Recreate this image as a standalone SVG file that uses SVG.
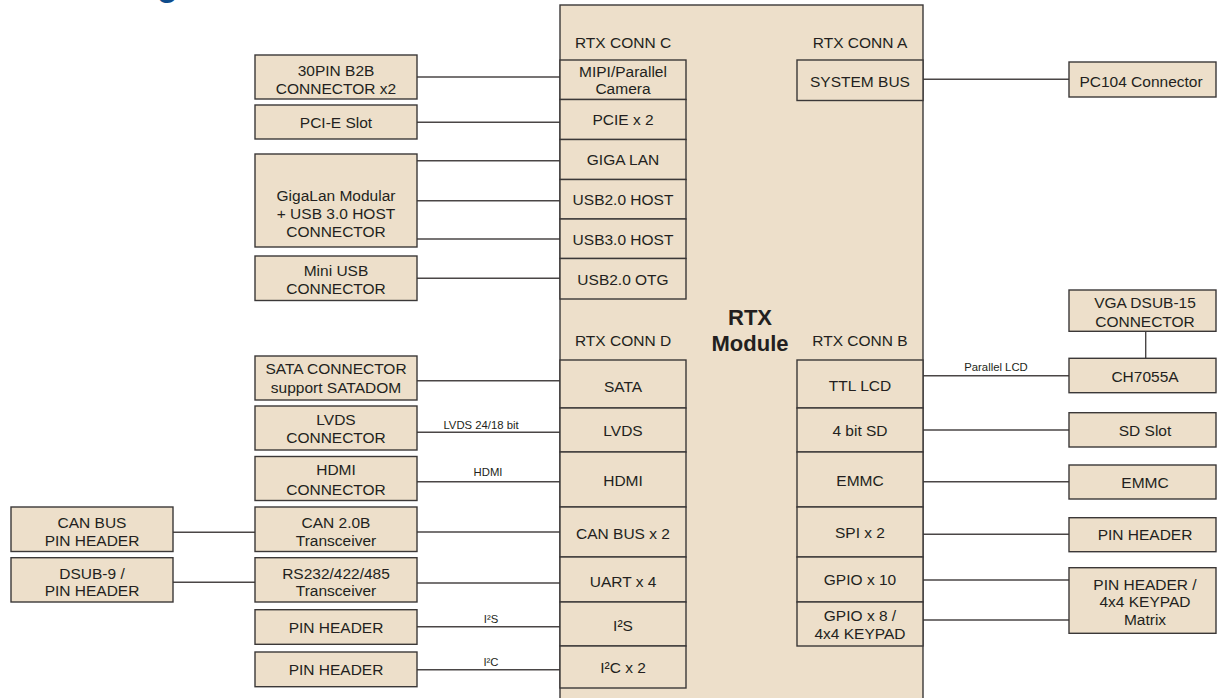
<svg xmlns="http://www.w3.org/2000/svg" width="1217" height="698" viewBox="0 0 1217 698">
<style>
.b{fill:#EDDFCA;stroke:#3b3838;stroke-width:1.4}
.t{font-family:"Liberation Sans",Arial,sans-serif;font-size:15.5px;fill:#231F20;text-anchor:middle}
.s{font-family:"Liberation Sans",Arial,sans-serif;font-size:11.3px;fill:#231F20;text-anchor:middle}
.h{font-family:"Liberation Sans",Arial,sans-serif;font-size:22px;font-weight:bold;fill:#231F20;text-anchor:middle}
.c{stroke:#4a4646;stroke-width:1.4;fill:none}
</style>
<rect width="1217" height="698" fill="#ffffff"/>
<text x="157" y="-4" font-family="'Liberation Sans',Arial,sans-serif" font-size="34" font-weight="bold" fill="#0e4c8c">g</text>

<g id="connectors">
<line class="c" x1="417" y1="77" x2="560" y2="77"/>
<line class="c" x1="417" y1="122.3" x2="560" y2="122.3"/>
<line class="c" x1="417" y1="160.7" x2="560" y2="160.7"/>
<line class="c" x1="417" y1="200.7" x2="560" y2="200.7"/>
<line class="c" x1="417" y1="239" x2="560" y2="239"/>
<line class="c" x1="417" y1="278.3" x2="560" y2="278.3"/>
<line class="c" x1="417" y1="380.7" x2="560" y2="380.7"/>
<line class="c" x1="417" y1="432.3" x2="560" y2="432.3"/>
<line class="c" x1="417" y1="481.7" x2="560" y2="481.7"/>
<line class="c" x1="417" y1="532" x2="560" y2="532"/>
<line class="c" x1="417" y1="583" x2="560" y2="583"/>
<line class="c" x1="417" y1="626.7" x2="560" y2="626.7"/>
<line class="c" x1="417" y1="669.7" x2="560" y2="669.7"/>
<line class="c" x1="173" y1="532.3" x2="255" y2="532.3"/>
<line class="c" x1="173" y1="582.3" x2="255" y2="582.3"/>
<line class="c" x1="923" y1="79.3" x2="1069" y2="79.3"/>
<line class="c" x1="923" y1="375.7" x2="1069" y2="375.7"/>
<line class="c" x1="923" y1="430" x2="1069" y2="430"/>
<line class="c" x1="923" y1="481.7" x2="1069" y2="481.7"/>
<line class="c" x1="923" y1="534.3" x2="1069" y2="534.3"/>
<line class="c" x1="923" y1="580" x2="1069" y2="580"/>
<line class="c" x1="923" y1="620" x2="1069" y2="620"/>
<line class="c" x1="1145.7" y1="331.3" x2="1145.7" y2="358.3"/>
<text class="s" x="481" y="429">LVDS 24/18 bit</text>
<text class="s" x="488" y="476">HDMI</text>
<text class="s" x="491" y="623.3">I²S</text>
<text class="s" x="491" y="665.7">I²C</text>
<text class="s" x="996" y="370.7">Parallel LCD</text>
</g>

<g id="rtx-module">
<rect class="b" x="560" y="5" width="363" height="700"/>
<text class="t" x="623" y="47.5">RTX CONN C</text>
<text class="t" x="860" y="47.5">RTX CONN A</text>
<text class="t" x="623" y="346">RTX CONN D</text>
<text class="t" x="860" y="346">RTX CONN B</text>
<text class="h" x="750" y="325">RTX<tspan x="750" dy="26">Module</tspan></text>
</g>

<g id="conn-c-mipi"><rect class="b" x="560" y="60" width="126" height="39.5"/><text class="t" x="623" y="76.5">MIPI/Parallel<tspan x="623" dy="17.5">Camera</tspan></text></g>
<g id="conn-c-pcie"><rect class="b" x="560" y="99.5" width="126" height="40"/><text class="t" x="623" y="125">PCIE x 2</text></g>
<g id="conn-c-gigalan"><rect class="b" x="560" y="139.5" width="126" height="40"/><text class="t" x="623" y="165">GIGA LAN</text></g>
<g id="conn-c-usb2host"><rect class="b" x="560" y="179.5" width="126" height="39.5"/><text class="t" x="623" y="205">USB2.0 HOST</text></g>
<g id="conn-c-usb3host"><rect class="b" x="560" y="219" width="126" height="39.5"/><text class="t" x="623" y="244.5">USB3.0 HOST</text></g>
<g id="conn-c-usbotg"><rect class="b" x="560" y="258.5" width="126" height="40.5"/><text class="t" x="623" y="285">USB2.0 OTG</text></g>

<g id="conn-d-sata"><rect class="b" x="560" y="360" width="126" height="48"/><text class="t" x="623" y="392">SATA</text></g>
<g id="conn-d-lvds"><rect class="b" x="560" y="408" width="126" height="44"/><text class="t" x="623" y="435.5">LVDS</text></g>
<g id="conn-d-hdmi"><rect class="b" x="560" y="452" width="126" height="55"/><text class="t" x="623" y="485.5">HDMI</text></g>
<g id="conn-d-can"><rect class="b" x="560" y="507" width="126" height="50"/><text class="t" x="623" y="539">CAN BUS x 2</text></g>
<g id="conn-d-uart"><rect class="b" x="560" y="557" width="126" height="45"/><text class="t" x="623" y="586.5">UART x 4</text></g>
<g id="conn-d-i2s"><rect class="b" x="560" y="602" width="126" height="44"/><text class="t" x="623" y="630.5">I²S</text></g>
<g id="conn-d-i2c"><rect class="b" x="560" y="646" width="126" height="42"/><text class="t" x="623" y="672.5">I²C x 2</text></g>

<g id="conn-a-sysbus"><rect class="b" x="797" y="60" width="126" height="40.5"/><text class="t" x="860" y="86.5">SYSTEM BUS</text></g>

<g id="conn-b-ttllcd"><rect class="b" x="797" y="360" width="126" height="48"/><text class="t" x="860" y="390.5">TTL LCD</text></g>
<g id="conn-b-sd"><rect class="b" x="797" y="408" width="126" height="44"/><text class="t" x="860" y="435.5">4 bit SD</text></g>
<g id="conn-b-emmc"><rect class="b" x="797" y="452" width="126" height="55"/><text class="t" x="860" y="485.5">EMMC</text></g>
<g id="conn-b-spi"><rect class="b" x="797" y="507" width="126" height="50"/><text class="t" x="860" y="538.3">SPI x 2</text></g>
<g id="conn-b-gpio10"><rect class="b" x="797" y="557" width="126" height="45"/><text class="t" x="860" y="585">GPIO x 10</text></g>
<g id="conn-b-gpio8"><rect class="b" x="797" y="602" width="126" height="44"/><text class="t" x="860" y="621">GPIO x 8 /<tspan x="860" dy="17.5">4x4 KEYPAD</tspan></text></g>

<g id="b2b"><rect class="b" x="255" y="55" width="162" height="44"/><text class="t" x="336" y="76">30PIN B2B<tspan x="336" dy="17.5">CONNECTOR x2</tspan></text></g>
<g id="pcie-slot"><rect class="b" x="255" y="105" width="162" height="34"/><text class="t" x="336" y="128.3">PCI-E Slot</text></g>
<g id="gigalan-modular"><rect class="b" x="255" y="154" width="162" height="93"/><text class="t" x="336" y="201">GigaLan Modular<tspan x="336" dy="18">+ USB 3.0 HOST</tspan><tspan x="336" dy="17.5">CONNECTOR</tspan></text></g>
<g id="mini-usb"><rect class="b" x="255" y="256" width="162" height="44.5"/><text class="t" x="336" y="276">Mini USB<tspan x="336" dy="17.5">CONNECTOR</tspan></text></g>
<g id="sata-conn"><rect class="b" x="255" y="356" width="162" height="44"/><text class="t" x="336" y="374.3">SATA CONNECTOR<tspan x="336" dy="18.7">support SATADOM</tspan></text></g>
<g id="lvds-conn"><rect class="b" x="255" y="406" width="162" height="44"/><text class="t" x="336" y="425">LVDS<tspan x="336" dy="17.5">CONNECTOR</tspan></text></g>
<g id="hdmi-conn"><rect class="b" x="255" y="456.5" width="162" height="44"/><text class="t" x="336" y="475">HDMI<tspan x="336" dy="19.5">CONNECTOR</tspan></text></g>
<g id="can-transceiver"><rect class="b" x="255" y="507" width="162" height="44.5"/><text class="t" x="336" y="527.7">CAN 2.0B<tspan x="336" dy="18.3">Transceiver</tspan></text></g>
<g id="rs-transceiver"><rect class="b" x="255" y="557.7" width="162" height="44.3"/><text class="t" x="336" y="578.5">RS232/422/485<tspan x="336" dy="17.5">Transceiver</tspan></text></g>
<g id="pin-header-i2s"><rect class="b" x="255" y="609.7" width="162" height="34.6"/><text class="t" x="336" y="633.3">PIN HEADER</text></g>
<g id="pin-header-i2c"><rect class="b" x="255" y="652" width="162" height="34.7"/><text class="t" x="336" y="675.3">PIN HEADER</text></g>

<g id="can-pin-header"><rect class="b" x="11" y="507" width="162" height="44.5"/><text class="t" x="92" y="527.7">CAN BUS<tspan x="92" dy="18.3">PIN HEADER</tspan></text></g>
<g id="dsub9"><rect class="b" x="11" y="557.7" width="162" height="44.3"/><text class="t" x="92" y="578.5">DSUB-9 /<tspan x="92" dy="17.5">PIN HEADER</tspan></text></g>

<g id="pc104"><rect class="b" x="1069" y="62" width="147" height="35"/><text class="t" x="1141" y="86.7">PC104 Connector</text></g>
<g id="vga"><rect class="b" x="1069" y="290" width="147" height="41.3"/><text class="t" x="1145" y="308.3">VGA DSUB-15<tspan x="1145" dy="18.4">CONNECTOR</tspan></text></g>
<g id="ch7055a"><rect class="b" x="1069" y="358.3" width="147" height="34.4"/><text class="t" x="1145" y="381.7">CH7055A</text></g>
<g id="sd-slot"><rect class="b" x="1069" y="412.7" width="147" height="34.3"/><text class="t" x="1145" y="436">SD Slot</text></g>
<g id="emmc"><rect class="b" x="1069" y="465" width="147" height="34"/><text class="t" x="1145" y="487.7">EMMC</text></g>
<g id="pin-header-spi"><rect class="b" x="1069" y="517.7" width="147" height="34"/><text class="t" x="1145" y="540">PIN HEADER</text></g>
<g id="keypad"><rect class="b" x="1069" y="567.7" width="147" height="65.6"/><text class="t" x="1145" y="589.5">PIN HEADER /<tspan x="1145" dy="17.5">4x4 KEYPAD</tspan><tspan x="1145" dy="17.5">Matrix</tspan></text></g>
</svg>
